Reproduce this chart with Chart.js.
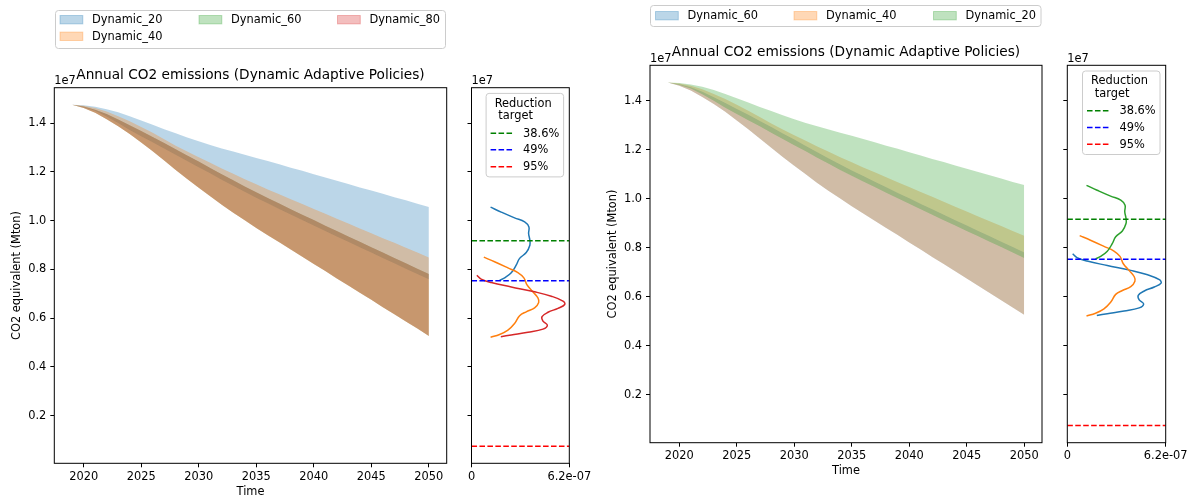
<!DOCTYPE html>
<html>
<head>
<meta charset="utf-8">
<script src="https://cdn.jsdelivr.net/npm/chart.js@4.4.1/dist/chart.umd.min.js"></script>
<style>
  html, body { margin: 0; padding: 0; background: #fff; width: 1193px; height: 499px; overflow: hidden; }
  canvas { position: absolute; left: 0; top: 0; }
</style>
</head>
<body>
<canvas id="mainLeft" width="1193" height="499"></canvas>
<canvas id="kdeLeft" width="1193" height="499"></canvas>
<canvas id="mainRight" width="1193" height="499"></canvas>
<canvas id="kdeRight" width="1193" height="499"></canvas>
<script>
// ---------------------------------------------------------------------------
// Data (emissions in units of 1e7 Mton CO2-equivalent)
// ---------------------------------------------------------------------------
const years = [2019, 2020, 2021, 2022, 2023, 2024, 2025, 2026, 2027, 2028, 2029, 2030,
               2031, 2032, 2033, 2034, 2035, 2036, 2037, 2038, 2039, 2040, 2041, 2042,
               2043, 2044, 2045, 2046, 2047, 2048, 2049, 2050];

// Envelope (max / min over runs) of annual emissions for each policy
const dyn20Upper = [1.475, 1.473, 1.467, 1.457, 1.444, 1.428, 1.411, 1.393, 1.375, 1.358, 1.341, 1.325,
                    1.310, 1.296, 1.283, 1.270, 1.257, 1.244, 1.231, 1.217, 1.204, 1.190, 1.177, 1.163,
                    1.150, 1.136, 1.123, 1.110, 1.096, 1.083, 1.069, 1.056];
const dyn20Lower = [1.475, 1.465, 1.450, 1.427, 1.400, 1.372, 1.346, 1.321, 1.296, 1.270, 1.244, 1.219,
                    1.194, 1.168, 1.143, 1.118, 1.094, 1.071, 1.048, 1.025, 1.002, 0.980, 0.957, 0.935,
                    0.913, 0.891, 0.869, 0.847, 0.825, 0.803, 0.781, 0.759];
const dyn40Upper = [1.475, 1.471, 1.462, 1.447, 1.428, 1.407, 1.384, 1.360, 1.334, 1.307, 1.283, 1.260,
                    1.237, 1.214, 1.192, 1.170, 1.149, 1.128, 1.108, 1.088, 1.068, 1.048, 1.028, 1.008,
                    0.988, 0.968, 0.948, 0.928, 0.909, 0.889, 0.869, 0.849];
const dyn40Lower = [1.475, 1.462, 1.442, 1.416, 1.387, 1.355, 1.320, 1.284, 1.246, 1.208, 1.171, 1.135,
                    1.100, 1.065, 1.032, 1.001, 0.970, 0.940, 0.911, 0.881, 0.852, 0.822, 0.793, 0.763,
                    0.734, 0.704, 0.675, 0.645, 0.616, 0.586, 0.557, 0.527];
const dyn60Upper = [1.475, 1.468, 1.455, 1.437, 1.415, 1.391, 1.367, 1.343, 1.318, 1.293, 1.267, 1.242,
                    1.216, 1.190, 1.165, 1.140, 1.116, 1.093, 1.070, 1.047, 1.024, 1.002, 0.979, 0.957,
                    0.935, 0.913, 0.891, 0.869, 0.847, 0.825, 0.803, 0.781];
const dyn60Lower = [1.475, 1.462, 1.442, 1.416, 1.387, 1.355, 1.320, 1.284, 1.246, 1.208, 1.171, 1.135,
                    1.100, 1.065, 1.032, 1.001, 0.970, 0.940, 0.911, 0.881, 0.852, 0.822, 0.793, 0.763,
                    0.734, 0.704, 0.675, 0.645, 0.616, 0.586, 0.557, 0.527];
const dyn80Upper = [1.475, 1.468, 1.455, 1.437, 1.415, 1.391, 1.367, 1.343, 1.318, 1.293, 1.267, 1.242,
                    1.216, 1.190, 1.165, 1.140, 1.116, 1.093, 1.070, 1.047, 1.024, 1.002, 0.979, 0.957,
                    0.935, 0.913, 0.891, 0.869, 0.847, 0.825, 0.803, 0.781];
const dyn80Lower = [1.475, 1.462, 1.442, 1.416, 1.387, 1.355, 1.320, 1.284, 1.246, 1.208, 1.171, 1.135,
                    1.100, 1.065, 1.032, 1.001, 0.970, 0.940, 0.911, 0.881, 0.852, 0.822, 0.793, 0.763,
                    0.734, 0.704, 0.675, 0.645, 0.616, 0.586, 0.557, 0.527];

// Density of 2050 emissions (value in 1e7, density in 1e-7)
const kde20Value   = [1.055, 1.035, 1.011, 0.995, 0.974, 0.947, 0.920, 0.899, 0.869, 0.845, 0.817, 0.786, 0.765, 0.755];
const kde20Density = [1.21, 1.88, 2.73, 3.37, 3.64, 3.62, 3.70, 3.70, 3.47, 3.05, 2.83, 2.52, 2.10, 1.78];
const kde40Value   = [0.850, 0.831, 0.806, 0.787, 0.765, 0.735, 0.708, 0.683, 0.664, 0.642, 0.626, 0.610, 0.578, 0.551, 0.533, 0.522];
const kde40Density = [0.78, 1.46, 2.31, 2.94, 3.32, 3.53, 3.89, 4.21, 4.26, 4.00, 3.47, 3.05, 2.73, 2.31, 1.78, 1.21];
const kde60Value   = [0.776, 0.760, 0.746, 0.728, 0.708, 0.690, 0.670, 0.656, 0.640, 0.624, 0.606, 0.588, 0.571, 0.555, 0.542, 0.531, 0.524];
const kde60Density = [0.34, 0.61, 1.25, 2.52, 4.00, 5.06, 5.80, 5.91, 5.48, 4.85, 4.47, 4.53, 4.81, 4.53, 3.58, 2.52, 1.86];
const kde80Value   = [0.776, 0.760, 0.746, 0.728, 0.708, 0.690, 0.670, 0.656, 0.640, 0.624, 0.606, 0.588, 0.571, 0.555, 0.542, 0.531, 0.524];
const kde80Density = [0.34, 0.61, 1.25, 2.52, 4.00, 5.06, 5.80, 5.91, 5.48, 4.85, 4.47, 4.53, 4.81, 4.53, 3.58, 2.52, 1.86];

// Reduction targets (emission level in 1e7)
const targetLabels = ['38.6%', '49%', '95%'];
const targetValues = [0.917, 0.753, 0.0747];

// Axis ticks
const yearTicks = [2020, 2025, 2030, 2035, 2040, 2045, 2050];
const emissionTicks = [0.2, 0.4, 0.6, 0.8, 1.0, 1.2, 1.4];
const densityTicks = [0, 6.2e-7];
const densityTickLabels = ['0', '6.2e-07'];

// Policy sets for both figures
const leftPolicies = ['Dynamic_20', 'Dynamic_40', 'Dynamic_60', 'Dynamic_80'];
const rightPolicies = ['Dynamic_60', 'Dynamic_40', 'Dynamic_20'];
// Density curves shown beside each figure (Dynamic_60 coincides with Dynamic_80 on the left)
const leftDensityPolicies = ['Dynamic_20', 'Dynamic_40', 'Dynamic_80'];
const rightDensityPolicies = ['Dynamic_60', 'Dynamic_40', 'Dynamic_20'];

// ---------------------------------------------------------------------------
// Lookups and styling
// ---------------------------------------------------------------------------
const bands = {
  Dynamic_20: [dyn20Upper, dyn20Lower],
  Dynamic_40: [dyn40Upper, dyn40Lower],
  Dynamic_60: [dyn60Upper, dyn60Lower],
  Dynamic_80: [dyn80Upper, dyn80Lower]
};
const kdes = {
  Dynamic_20: [kde20Value, kde20Density],
  Dynamic_40: [kde40Value, kde40Density],
  Dynamic_60: [kde60Value, kde60Density],
  Dynamic_80: [kde80Value, kde80Density]
};

const TAB = ['31,119,180', '255,127,14', '44,160,44', '214,39,40'];
const TARGET_COLORS = ['#008000', '#0000ff', '#ff0000'];
const FONT = '"DejaVu Sans", sans-serif';
const W = 1193, H = 499;
const Y_RANGE = [0.0047, 1.545];
const YEAR_RANGE = [2017.45, 2051.55];
const Y_AXIS_W = 40, X_AXIS_H = 30;

Chart.defaults.font.family = FONT;
Chart.defaults.color = '#000';

const rgba = (c, a) => `rgba(${c},${a})`;

function xScale(min, max, ticks, labels) {
  return {
    type: 'linear', min, max,
    afterBuildTicks: s => { s.ticks = ticks.map(v => ({ value: v })); },
    ticks: {
      font: { size: 11.4 }, color: '#000', padding: 3, autoSkip: false, maxRotation: 0,
      callback: (v, i) => labels ? labels[i] : String(v)
    },
    grid: { drawOnChartArea: false, drawTicks: true, tickLength: 4, tickColor: '#000', tickWidth: 1 },
    border: { display: false },
    afterFit: s => { s.height = X_AXIS_H; }
  };
}

function yScale(showLabels) {
  return {
    type: 'linear', min: Y_RANGE[0], max: Y_RANGE[1],
    afterBuildTicks: s => { s.ticks = emissionTicks.map(v => ({ value: v })); },
    ticks: {
      font: { size: 11.4 }, color: '#000', padding: 4,
      callback: v => showLabels ? v.toFixed(1) : ''
    },
    grid: { drawOnChartArea: false, drawTicks: true, tickLength: 4, tickColor: '#000', tickWidth: 1 },
    border: { display: false },
    afterFit: s => { s.width = Y_AXIS_W; }
  };
}

function padFor(area) {
  return { left: area.l - Y_AXIS_W, top: area.t, right: W - area.r, bottom: H - area.b - X_AXIS_H };
}

// ---------------------------------------------------------------------------
// Decorations: frame, titles, offset text, legends
// ---------------------------------------------------------------------------
const decorSpecs = {};

function roundRect(ctx, x, y, w, h, r) {
  ctx.beginPath();
  ctx.moveTo(x + r, y);
  ctx.arcTo(x + w, y, x + w, y + h, r);
  ctx.arcTo(x + w, y + h, x, y + h, r);
  ctx.arcTo(x, y + h, x, y, r);
  ctx.arcTo(x, y, x + w, y, r);
  ctx.closePath();
}

function drawPatchLegend(ctx, lg) {
  roundRect(ctx, lg.x, lg.y, lg.w, lg.h, 3);
  ctx.fillStyle = 'rgba(255,255,255,0.8)';
  ctx.fill();
  ctx.strokeStyle = '#cccccc';
  ctx.lineWidth = 1;
  ctx.stroke();
  ctx.font = '11.4px ' + FONT;
  ctx.textAlign = 'left';
  ctx.textBaseline = 'middle';
  lg.items.forEach(it => {
    ctx.fillStyle = rgba(it.color, 0.3);
    ctx.fillRect(it.x, it.y - 4.2, 22.8, 8.4);
    ctx.strokeStyle = rgba(it.color, 0.3);
    ctx.strokeRect(it.x, it.y - 4.2, 22.8, 8.4);
    ctx.fillStyle = '#000';
    ctx.fillText(it.name, it.x + 32, it.y + 0.5);
  });
}

function drawTargetLegend(ctx, a) {
  const bw = 77.5, bh = 83.5;
  const bx = a.right - 5.7 - bw, by = a.top + 5.7;
  roundRect(ctx, bx, by, bw, bh, 3);
  ctx.fillStyle = 'rgba(255,255,255,0.8)';
  ctx.fill();
  ctx.strokeStyle = '#cccccc';
  ctx.lineWidth = 1;
  ctx.stroke();
  ctx.font = '11.4px ' + FONT;
  ctx.textAlign = 'left';
  ctx.textBaseline = 'middle';
  ctx.fillStyle = '#000';
  ctx.fillText('Reduction', bx + 8.6, by + 10.5);
  ctx.fillText('target', bx + 8.6 + ctx.measureText(' ').width, by + 23);
  const rows = [39.8, 56.4, 73.3];
  targetLabels.forEach((lab, i) => {
    const y = by + rows[i];
    ctx.strokeStyle = TARGET_COLORS[i];
    ctx.lineWidth = 1.5;
    ctx.setLineDash([5.55, 2.4]);
    ctx.beginPath();
    ctx.moveTo(bx + 4.5, y);
    ctx.lineTo(bx + 27.3, y);
    ctx.stroke();
    ctx.setLineDash([]);
    ctx.fillStyle = '#000';
    ctx.fillText(lab, bx + 37, y + 0.5);
  });
}

const decor = {
  id: 'decor',
  afterDraw(chart) {
    const spec = decorSpecs[chart.canvas.id];
    const ctx = chart.ctx, a = chart.chartArea;
    ctx.save();
    ctx.strokeStyle = '#000';
    ctx.lineWidth = 1;
    ctx.strokeRect(a.left, a.top, a.right - a.left, a.bottom - a.top);

    ctx.fillStyle = '#000';
    ctx.font = '11.4px ' + FONT;
    ctx.textAlign = 'left';
    ctx.textBaseline = 'alphabetic';
    ctx.fillText('1e7', a.left, a.top - 3.5);

    if (spec.title) {
      ctx.font = '13.7px ' + FONT;
      ctx.textAlign = 'center';
      ctx.fillText(spec.title, (a.left + a.right) / 2, a.top - 9);
    }
    if (spec.xLabel) {
      ctx.font = '11.4px ' + FONT;
      ctx.textAlign = 'center';
      ctx.textBaseline = 'middle';
      ctx.fillText(spec.xLabel, (a.left + a.right) / 2, a.bottom + 28.7);
    }
    if (spec.yLabel) {
      ctx.save();
      ctx.font = '11.4px ' + FONT;
      ctx.translate(a.left - 37, (a.top + a.bottom) / 2);
      ctx.rotate(-Math.PI / 2);
      ctx.textAlign = 'center';
      ctx.textBaseline = 'middle';
      ctx.fillText(spec.yLabel, 0, 0);
      ctx.restore();
    }
    if (spec.legend) drawPatchLegend(ctx, spec.legend);
    if (spec.targets) drawTargetLegend(ctx, a);
    ctx.restore();
  }
};

// ---------------------------------------------------------------------------
// Chart builders
// ---------------------------------------------------------------------------
function buildMain(id, policies, area) {
  const datasets = [];
  policies.forEach((name, i) => {
    const [up, lo] = bands[name];
    const order = policies.length - i;   // first policy sits underneath
    datasets.push({
      label: name + ' min', data: years.map((yr, k) => ({ x: yr, y: lo[k] })),
      borderWidth: 0, borderColor: 'transparent', pointRadius: 0, fill: false, order
    });
    datasets.push({
      label: name, data: years.map((yr, k) => ({ x: yr, y: up[k] })),
      borderWidth: 0, borderColor: 'transparent', pointRadius: 0,
      fill: '-1', backgroundColor: rgba(TAB[i], 0.3), order
    });
  });
  return new Chart(document.getElementById(id), {
    type: 'line',
    data: { datasets },
    options: {
      responsive: false, animation: false, devicePixelRatio: 1,
      layout: { padding: padFor(area) },
      plugins: { legend: { display: false }, tooltip: { enabled: false } },
      scales: {
        x: xScale(YEAR_RANGE[0], YEAR_RANGE[1], yearTicks, null),
        y: yScale(true)
      }
    },
    plugins: [decor]
  });
}

// policies: names shown in the figure (for colours); shown: density curves drawn
function buildKde(id, policies, shown, area) {
  const datasets = [];
  targetValues.forEach((v, i) => {
    datasets.push({
      label: targetLabels[i],
      data: [{ x: densityTicks[0], y: v }, { x: densityTicks[1], y: v }],
      borderColor: TARGET_COLORS[i], borderWidth: 1.5, borderDash: [5.55, 2.4],
      pointRadius: 0, fill: false, order: 0
    });
  });
  shown.forEach(name => {
    const ci = policies.indexOf(name);
    const [vals, dens] = kdes[name];
    datasets.push({
      label: name, data: vals.map((v, k) => ({ x: dens[k] * 1e-7, y: v })),
      borderColor: rgba(TAB[ci], 1), borderWidth: 1.5, pointRadius: 0,
      tension: 0.4, fill: false, order: policies.length - ci
    });
  });
  return new Chart(document.getElementById(id), {
    type: 'line',
    data: { datasets },
    options: {
      responsive: false, animation: false, devicePixelRatio: 1,
      layout: { padding: padFor(area) },
      plugins: { legend: { display: false }, tooltip: { enabled: false } },
      scales: {
        x: xScale(densityTicks[0], densityTicks[1], densityTicks, densityTickLabels),
        y: yScale(false)
      }
    },
    plugins: [decor]
  });
}

// ---------------------------------------------------------------------------
// Figures
// ---------------------------------------------------------------------------
const TITLE = 'Annual CO2 emissions (Dynamic Adaptive Policies)';

decorSpecs.mainLeft = {
  title: TITLE, xLabel: 'Time', yLabel: 'CO2 equivalent (Mton)',
  legend: {
    x: 55.5, y: 10.5, w: 390, h: 38,
    items: [
      { name: leftPolicies[0], color: TAB[0], x: 60, y: 19.7 },
      { name: leftPolicies[1], color: TAB[1], x: 60, y: 36.3 },
      { name: leftPolicies[2], color: TAB[2], x: 199, y: 19.7 },
      { name: leftPolicies[3], color: TAB[3], x: 337.5, y: 19.7 }
    ]
  }
};
decorSpecs.kdeLeft = { targets: true };
decorSpecs.mainRight = {
  title: TITLE, xLabel: 'Time', yLabel: 'CO2 equivalent (Mton)',
  legend: {
    x: 650.5, y: 5.5, w: 390.5, h: 21,
    items: [
      { name: rightPolicies[0], color: TAB[0], x: 655.5, y: 15.7 },
      { name: rightPolicies[1], color: TAB[1], x: 794, y: 15.7 },
      { name: rightPolicies[2], color: TAB[2], x: 933.5, y: 15.7 }
    ]
  }
};
decorSpecs.kdeRight = { targets: true };

buildMain('mainLeft', leftPolicies, { l: 54.3, t: 87.7, r: 446.7, b: 463.3 });
buildKde('kdeLeft', leftPolicies, leftDensityPolicies, { l: 471.5, t: 87.7, r: 569.3, b: 463.3 });
buildMain('mainRight', rightPolicies, { l: 650, t: 65.3, r: 1042, b: 442.7 });
buildKde('kdeRight', rightPolicies, rightDensityPolicies, { l: 1067.3, t: 65.3, r: 1165.7, b: 442.7 });
</script>
</body>
</html>
